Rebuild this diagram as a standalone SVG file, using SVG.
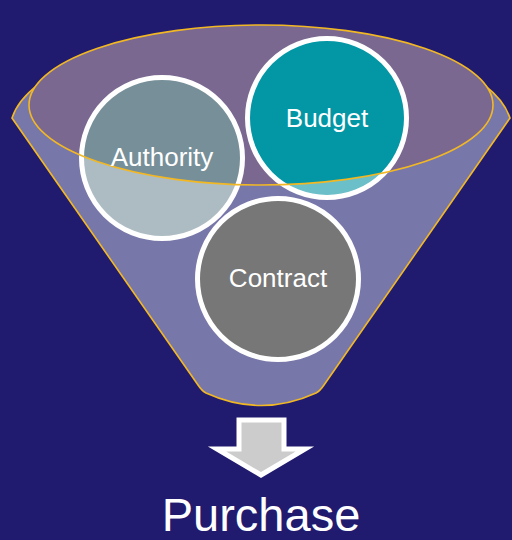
<svg xmlns="http://www.w3.org/2000/svg" width="512" height="540" viewBox="0 0 512 540">
  <style>
    .gold { fill: none; stroke: #F2B824; stroke-width: 1.6; }
    .ring { fill: none; stroke: #FFFFFF; stroke-width: 5; }
    .lbl { font-family: "Liberation Sans", Arial, sans-serif; font-size: 26px; fill: #FFFFFF; text-anchor: middle; }
  </style>
  <defs>
    <mask id="outside">
      <rect x="0" y="0" width="512" height="540" fill="#FFFFFF"/>
      <ellipse cx="261" cy="105" rx="232" ry="80" fill="#000000"/>
    </mask>
  </defs>
  <rect x="0" y="0" width="512" height="540" fill="#211B6F"/>

  <g id="funnel">
    <path d="M 12,118 A 251 100 0 0 1 510,118 L 324,385 Q 320,391 316,393 Q 261,418 206,393 Q 202,391 198,385 Z" fill="#7877AA" stroke="#F2B824" stroke-width="1.6"/>
    <ellipse cx="261" cy="105" rx="232" ry="80" fill="#7A6891"/>
  </g>

  <g id="authority">
    <circle cx="162" cy="158" r="80.5" fill="#778F99"/>
    <circle cx="162" cy="158" r="80.5" fill="#ADBCC3" mask="url(#outside)"/>
    <circle cx="162" cy="158" r="80.5" class="ring"/>
  </g>
  <g id="budget">
    <circle cx="327" cy="118" r="79.5" fill="#0397A6"/>
    <circle cx="327" cy="118" r="79.5" fill="#6ABFC9" mask="url(#outside)"/>
    <circle cx="327" cy="118" r="79.5" class="ring"/>
  </g>
  <g id="contract">
    <circle cx="278" cy="279" r="80.5" fill="#777777"/>
    <circle cx="278" cy="279" r="80.5" class="ring"/>
  </g>

  <ellipse cx="261" cy="105" rx="232" ry="80" class="gold"/>

  <text class="lbl" x="162" y="166">Authority</text>
  <text class="lbl" x="327" y="127">Budget</text>
  <text class="lbl" x="278" y="287">Contract</text>

  <g id="connectors">
    <polygon points="239,420 284,420 284,449 305,449 261,475 217,449 239,449" fill="#CCCCCC" stroke="#FFFFFF" stroke-width="5" stroke-linejoin="miter"/>
  </g>

  <g id="purchase">
    <text x="261" y="531" font-family="Liberation Sans, Arial, sans-serif" font-size="47" fill="#FFFFFF" text-anchor="middle">Purchase</text>
  </g>
</svg>
